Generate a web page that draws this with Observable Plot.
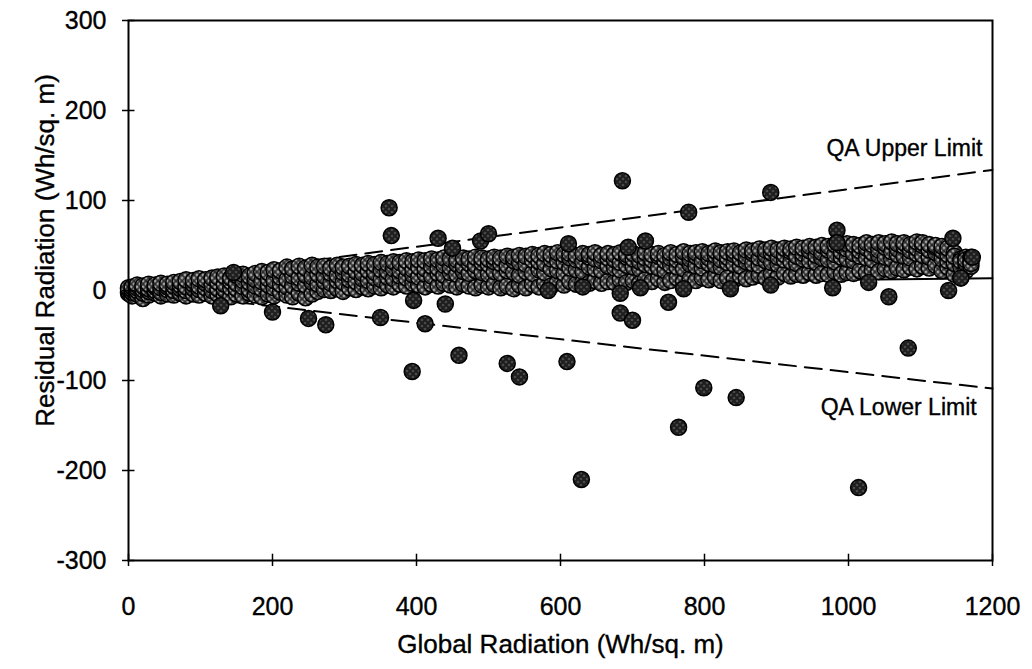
<!DOCTYPE html>
<html>
<head>
<meta charset="utf-8">
<script src="https://cdn.jsdelivr.net/npm/d3@7"></script>
<script src="https://cdn.jsdelivr.net/npm/@observablehq/plot@0.6"></script>
<style>
  html, body { margin: 0; padding: 0; background: #fff; }
  #chart svg { display: block; }
  #chart svg text { stroke: #000; stroke-width: 0.35px; }
</style>
</head>
<body>
<div id="chart"></div>
<script>
// ---- tick values ----
const xTicks = [0, 200, 400, 600, 800, 1000, 1200];
const yTicks = [-300, -200, -100, 0, 100, 200, 300];

// ---- dense band of residuals (global radiation x, four residual rows) ----
const bandX = [0,5,12,20,28,37,45,54,63,72,80,90,98,107,116,124,133,142,150,159,168,176,185,194,202,211,220,228,237,246,255,263,272,281,290,298,307,316,325,333,342,351,360,368,377,386,395,403,412,421,430,438,447,456,465,473,482,491,500,508,517,526,535,543,552,561,570,578,587,596,605,613,622,631,640,648,657,666,675,683,692,701,710,718,727,736,745,753,762,771,780,788,797,806,815,823,832,841,850,858,867,876,885,893,902,911,920,928,937,946,955,963,972,981,990,998,1007,1016,1025,1033,1042,1051,1060,1068,1077,1086,1095,1103,1112,1121,1130,1138,1147,1156,1163,1170];
const bandA = [-3,-6,-4,-9,-5,-3,-6,-4,-5,-3,-6,-4,-5,-3,-6,-4,-5,-7,-4,-6,-3,-5,-7,-4,-6,-2,-5,-7,-3,-8,-4,-1,1,0,2,-1,3,1,4,2,5,3,6,4,7,5,8,6,4,7,5,8,6,4,7,5,3,6,4,7,3,5,2,6,3,7,4,8,5,9,6,10,7,9,8,11,8,10,9,12,9,11,8,12,10,13,9,11,14,10,13,11,14,12,15,11,14,12,16,13,15,17,14,18,15,19,16,18,17,20,17,19,18,21,18,20,19,22,20,23,21,24,22,25,23,26,24,27,25,28,22,26,18,14,22,27];
const bandB = [-1,-2,0,-3,-1,0,-2,1,0,2,0,2,1,3,0,2,1,3,2,4,1,5,2,6,3,7,4,5,8,6,9,7,10,8,11,9,12,10,13,11,14,12,15,13,16,14,17,15,18,16,19,17,20,18,21,19,22,20,18,21,19,22,20,17,21,19,23,20,24,22,19,25,23,21,26,24,22,27,25,23,28,26,24,29,27,25,22,28,26,24,29,27,25,30,28,26,31,29,27,32,30,28,33,31,29,34,32,30,35,33,31,36,34,32,37,35,33,38,36,34,39,37,35,40,38,36,41,39,37,42,35,33,30,26,30,37];
const bandC = [2,1,3,1,2,4,3,4,5,6,4,7,5,8,6,9,7,10,8,11,9,12,10,13,11,15,12,16,14,17,15,18,16,19,17,20,18,21,19,22,20,23,21,24,22,25,23,26,24,27,25,28,26,29,27,30,28,31,29,32,30,28,33,31,29,34,32,30,35,33,31,36,34,32,37,35,33,36,34,31,37,35,32,36,34,38,33,36,34,37,35,38,33,36,39,34,37,40,35,38,41,36,39,42,37,40,43,38,41,44,39,42,45,40,43,46,41,44,47,42,45,48,43,46,49,44,47,50,45,48,44,40,42,35,37,33];
const bandD = [3,4,6,5,7,6,8,7,9,10,12,11,13,12,14,15,16,14,17,18,16,19,21,20,23,22,26,24,27,25,28,26,27,25,28,26,27,29,28,30,29,31,30,32,31,33,32,34,33,35,34,36,35,34,36,35,37,36,35,37,36,38,37,39,38,40,39,41,40,42,40,41,39,41,40,42,39,41,40,42,40,41,39,42,40,41,39,42,40,43,41,42,43,41,44,42,43,44,42,45,44,46,45,47,45,47,46,48,47,49,48,50,49,51,50,52,51,50,53,51,53,52,54,52,53,51,54,53,51,50,49,47,38,33,34,30];

// ---- outliers ----
const outX = [128,146,200,250,274,350,362,365,396,394,412,430,440,450,459,489,500,526,543,583,609,611,629,631,683,683,686,694,700,711,718,750,764,771,778,799,836,844,892,892,978,984,984,1014,1028,1056,1083,1139,1145,1156,1172];
const outY = [-17,20,-24,-31,-38,-30,92,61,-11,-90,-37,58,-15,47,-72,55,63,-81,-96,0,-79,52,-210,4,-3,-25,122,48,-33,3,55,-13,-152,2,87,-108,2,-119,109,6,3,67,53,-219,9,-7,-64,0,58,14,37];

// ---- reference lines ----
const qaX = [150, 1200];
const qaUpper = [22, 134];
const qaLower = [-13, -109];
const fitX = [0, 1200];
const fitY = [4, 13.5];

// ---- annotations ----
const noteText = ["QA Upper Limit", "QA Lower Limit"];
const noteX = [1186, 1178];
const noteY = [158, -130];

// build tables
const band = [];
bandX.forEach((x, i) => {
  [bandA[i], bandB[i], bandC[i], bandD[i]].forEach(y => band.push({x, y}));
});
const outliers = outX.map((x, i) => ({x, y: outY[i]}));
const upper = qaX.map((x, i) => ({x, y: qaUpper[i]}));
const lower = qaX.map((x, i) => ({x, y: qaLower[i]}));
const fit = fitX.map((x, i) => ({x, y: fitY[i]}));
const notes = noteText.map((t, i) => ({t, x: noteX[i], y: noteY[i]}));

const dotStyle = {r: 8, fill: "url(#halftone)", stroke: "#000", strokeWidth: 1.5};

const chart = Plot.plot({
  width: 1032,
  height: 669,
  marginLeft: 128,
  marginRight: 40,
  marginTop: 20,
  marginBottom: 109,
  style: {fontFamily: "'Liberation Sans', Arial, Helvetica, sans-serif", color: "#000", background: "#fff"},
  x: {domain: [0, 1200]},
  y: {domain: [-300, 300]},
  marks: [
    Plot.line(upper, {x: "x", y: "y", stroke: "#000", strokeWidth: 2, strokeDasharray: "17,9"}),
    Plot.line(lower, {x: "x", y: "y", stroke: "#000", strokeWidth: 2, strokeDasharray: "17,9"}),
    Plot.line(fit, {x: "x", y: "y", stroke: "#000", strokeWidth: 2}),
    Plot.dot(band, {x: "x", y: "y", ...dotStyle}),
    Plot.dot(outliers, {x: "x", y: "y", ...dotStyle, fill: "url(#halftoneDark)"}),
    Plot.frame({stroke: "#000", strokeWidth: 2}),
    Plot.ruleX(xTicks, {x: d => d, y1: -300, y2: -293, stroke: "#000", strokeWidth: 1.5}),
    Plot.ruleY(yTicks, {y: d => d, x1: 0, x2: 9, stroke: "#000", strokeWidth: 1.5}),
    Plot.axisX({ticks: xTicks, tickSize: 6, tickPadding: 31, fontSize: 25, label: null, strokeWidth: 1.5, tickFormat: d => String(d)}),
    Plot.axisY({ticks: yTicks, tickSize: 6, tickPadding: 16, fontSize: 25, label: null, strokeWidth: 1.5, tickFormat: d => String(d)}),
    Plot.text(notes, {x: "x", y: "y", text: "t", textAnchor: "end", fontSize: 23, fill: "#000"}),
    Plot.text(["Global Radiation (Wh/sq. m)"], {text: d => d, frameAnchor: "bottom", dy: 84, lineAnchor: "middle", textAnchor: "middle", fontSize: 26, fill: "#000"}),
    Plot.text(["Residual Radiation (Wh/sq. m)"], {text: d => d, frameAnchor: "left", rotate: -90, dx: -83, dy: -40, textAnchor: "middle", lineAnchor: "middle", fontSize: 26, fill: "#000"})
  ]
});

// halftone fill patterns used by the dots
const defs = d3.select(chart).insert("defs", ":first-child");
function halftone(id, bg, spot, r) {
  const p = defs.append("pattern").attr("id", id)
    .attr("patternUnits", "userSpaceOnUse").attr("width", 6).attr("height", 6);
  p.append("rect").attr("width", 6).attr("height", 6).attr("fill", bg);
  p.append("circle").attr("cx", 1.5).attr("cy", 1.5).attr("r", r).attr("fill", spot);
  p.append("circle").attr("cx", 4.5).attr("cy", 4.5).attr("r", r).attr("fill", spot);
}
halftone("halftone", "#2e2e2e", "#e8e8e8", 1.15);
halftone("halftoneDark", "#1e1e1e", "#9a9a9a", 0.8);

document.getElementById("chart").appendChild(chart);
</script>
</body>
</html>
